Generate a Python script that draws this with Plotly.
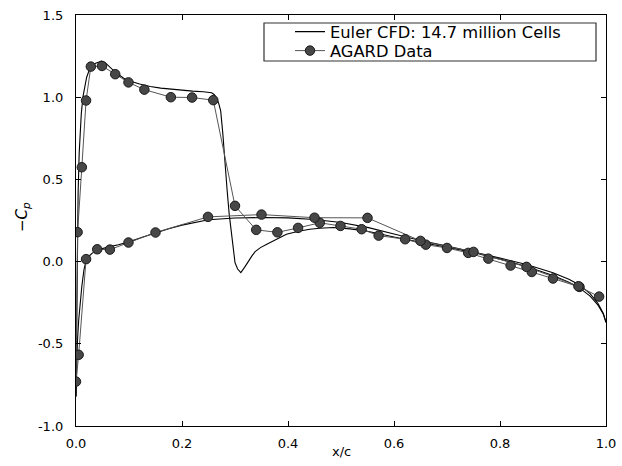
import plotly.graph_objects as go

# ---- CFD (Euler) upper surface: x/c, -Cp
cfd_upper_x = [0.0, 0.001, 0.002, 0.003, 0.004, 0.006, 0.008, 0.010, 0.013, 0.016, 0.020, 0.025,
               0.030, 0.036, 0.042, 0.048, 0.055, 0.065, 0.075, 0.09, 0.10, 0.12, 0.14, 0.16,
               0.18, 0.20, 0.22, 0.24, 0.25, 0.256, 0.261, 0.265, 0.269, 0.273, 0.277, 0.281,
               0.285, 0.289, 0.295, 0.300, 0.305, 0.311, 0.318, 0.325, 0.332, 0.338, 0.348,
               0.36, 0.38, 0.397, 0.42, 0.441, 0.46, 0.486, 0.517, 0.55, 0.60, 0.65, 0.70,
               0.75, 0.80, 0.85, 0.90, 0.93, 0.95, 0.97, 0.985, 0.995, 1.0]
cfd_upper_y = [-0.82, -0.45, -0.10, 0.20, 0.42, 0.66, 0.80, 0.90, 1.00, 1.06, 1.12, 1.165,
               1.19, 1.205, 1.215, 1.22, 1.21, 1.18, 1.15, 1.115, 1.10, 1.08, 1.065, 1.055,
               1.048, 1.042, 1.037, 1.033, 1.031, 1.027, 1.015, 0.995, 0.965, 0.917, 0.78, 0.59,
               0.44, 0.29, 0.126, -0.006, -0.045, -0.067, -0.035, 0.004, 0.035, 0.061, 0.085,
               0.106, 0.140, 0.167, 0.185, 0.197, 0.203, 0.207, 0.199, 0.185, 0.150, 0.118, 0.086,
               0.055, 0.015, -0.030, -0.085, -0.125, -0.160, -0.210, -0.265, -0.320, -0.37]

# ---- CFD (Euler) lower surface
cfd_lower_x = [0.0, 0.001, 0.0025, 0.005, 0.008, 0.011, 0.015, 0.019, 0.025, 0.03, 0.04, 0.05,
               0.06, 0.08, 0.10, 0.125, 0.15, 0.175, 0.20, 0.225, 0.25, 0.30, 0.35, 0.40, 0.45,
               0.50, 0.55, 0.60, 0.65, 0.70, 0.75, 0.80, 0.85, 0.90, 0.93, 0.95, 0.97, 0.985,
               0.995, 1.0]
cfd_lower_y = [-0.82, -0.65, -0.50, -0.36, -0.24, -0.15, -0.05, 0.005, 0.035, 0.05, 0.07, 0.08,
               0.088, 0.103, 0.12, 0.148, 0.175, 0.20, 0.222, 0.24, 0.255, 0.265, 0.268, 0.266,
               0.256, 0.238, 0.208, 0.168, 0.128, 0.094, 0.060, 0.022, -0.018, -0.068, -0.108,
               -0.142, -0.195, -0.255, -0.315, -0.37]

# ---- AGARD experimental data (upper surface, trailing edge -> leading edge, then lower)
agard_upper_x = [0.987, 0.95, 0.90, 0.86, 0.82, 0.778, 0.74, 0.70, 0.66, 0.621, 0.571, 0.539,
                 0.499, 0.46, 0.419, 0.38, 0.34, 0.30, 0.259, 0.219, 0.179, 0.129, 0.099,
                 0.074, 0.049, 0.028, 0.019, 0.011, 0.003]
agard_upper_y = [-0.213, -0.154, -0.103, -0.063, -0.024, 0.018, 0.053, 0.083, 0.103, 0.136,
                 0.158, 0.197, 0.217, 0.236, 0.205, 0.178, 0.193, 0.339, 0.982, 0.998, 1.0,
                 1.046, 1.09, 1.14, 1.19, 1.186, 0.98, 0.574, 0.179]
agard_le_x = [0.0]
agard_le_y = [-0.73]
agard_lower_x = [0.005, 0.019, 0.04, 0.064, 0.099, 0.15, 0.249, 0.35, 0.45, 0.55, 0.65,
                 0.75, 0.85, 0.948]
agard_lower_y = [-0.567, 0.015, 0.075, 0.073, 0.116, 0.177, 0.272, 0.286, 0.267, 0.266,
                 0.126, 0.059, -0.032, -0.15]

agard_x = agard_upper_x + agard_le_x + agard_lower_x
agard_y = agard_upper_y + agard_le_y + agard_lower_y

x_ticks = [0.0, 0.2, 0.4, 0.6, 0.8, 1.0]
x_tick_labels = ["0.0", "0.2", "0.4", "0.6", "0.8", "1.0"]
y_ticks = [-1.0, -0.5, 0.0, 0.5, 1.0, 1.5]
y_tick_labels = ["-1.0", "-0.5", "0.0", "0.5", "1.0", "1.5"]

FONT = "DejaVu Sans"
W, H = 622, 466
ML, MR, MT, MB = 76, 16, 15, 40
PW, PH = W - ML - MR, H - MT - MB


def px_x(p):
    return (p - ML) / PW


def px_y(p):
    return (H - MB - p) / PH


fig = go.Figure()
fig.add_trace(go.Scatter(x=cfd_upper_x, y=cfd_upper_y, mode="lines",
                         line=dict(color="black", width=1.1),
                         name="Euler CFD: 14.7 million Cells", legendgroup="cfd",
                         legend="legend"))
fig.add_trace(go.Scatter(x=cfd_lower_x, y=cfd_lower_y, mode="lines",
                         line=dict(color="black", width=1.1),
                         name="Euler CFD: 14.7 million Cells", legendgroup="cfd",
                         showlegend=False))
fig.add_trace(go.Scatter(x=agard_x, y=agard_y, mode="lines+markers",
                         line=dict(color="#555555", width=1),
                         marker=dict(size=9.5, color="#474747",
                                     line=dict(color="#1a1a1a", width=1)),
                         name="AGARD Data", legend="legend2"))

axis_common = dict(showline=True, linecolor="black", linewidth=1.2, mirror="ticks",
                   ticks="inside", ticklen=5, tickwidth=1, tickcolor="black",
                   showgrid=False, zeroline=False, automargin=False,
                   tickfont=dict(family=FONT, size=13, color="black"))

fig.update_xaxes(range=[0, 1.0], tickvals=x_ticks, ticktext=x_tick_labels,
                 ticklabelstandoff=5, **axis_common)
fig.update_yaxes(range=[-1.0, 1.5], tickvals=y_ticks, ticktext=y_tick_labels,
                 ticklabelstandoff=9, **axis_common)

legend_common = dict(xanchor="left", yanchor="middle", borderwidth=0,
                     bgcolor="rgba(0,0,0,0)", itemwidth=30,
                     font=dict(family=FONT, size=16.3, color="black"))

fig.update_layout(
    width=W, height=H,
    margin=dict(l=ML, r=MR, t=MT, b=MB),
    paper_bgcolor="white", plot_bgcolor="white",
    font=dict(family=FONT, color="black"),
    legend=dict(x=px_x(290), y=px_y(32), **legend_common),
    legend2=dict(x=px_x(290), y=px_y(51), **legend_common),
    shapes=[dict(type="rect", xref="paper", yref="paper",
                 x0=px_x(264), x1=px_x(596), y0=px_y(61), y1=px_y(23),
                 line=dict(color="#333333", width=1.2), fillcolor="white",
                 layer="above")],
    annotations=[
        dict(text="x/c", xref="paper", yref="paper", x=px_x(341), y=px_y(452),
             xanchor="center", yanchor="middle", showarrow=False,
             font=dict(family=FONT, size=13, color="black")),
        dict(text="\u2212<i>C</i><sub><i>p</i></sub>", xref="paper", yref="paper",
             x=px_x(23), y=px_y(217), xanchor="center", yanchor="middle",
             textangle=-90, showarrow=False,
             font=dict(family=FONT, size=15, color="black")),
    ],
)

fig.write_html("out.html")
